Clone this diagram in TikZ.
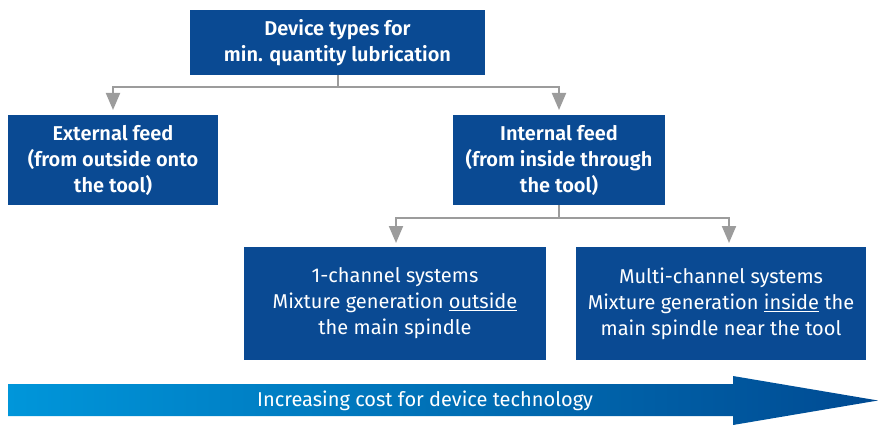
\documentclass[tikz,border=0pt]{standalone}
\usepackage{fontspec}
\setmainfont[BoldFont={Fira Sans SemiBold}]{Fira Sans}
\usetikzlibrary{arrows.meta}
\definecolor{boxblue}{HTML}{0A4A93}
\definecolor{lineg}{HTML}{9C9C9C}
\definecolor{lightb}{HTML}{0096DA}
\definecolor{darkb}{HTML}{004A92}
\tikzset{
  box/.style={fill=boxblue, text=white, align=center, inner sep=0pt, font=\fontsize{20}{26}\selectfont,
    execute at begin node={\rule{0pt}{24pt}}},
  bbox/.style={box, font=\fontsize{20}{26}\selectfont\bfseries},
  conn/.style={draw=lineg, line width=2pt, -{Triangle[width=14pt,length=17pt]}},
  connp/.style={draw=lineg, line width=2pt}
}
\begin{document}
\begin{tikzpicture}[x=1pt,y=-1pt]
\useasboundingbox (0,0) rectangle (878,425);
\node[bbox, minimum width=295pt, minimum height=65pt] (top) at (337.5,42.5) {Device types for\\min. quantity lubrication};
\node[bbox, minimum width=210pt, minimum height=90pt] (ext) at (113,160) {External feed\\(from outside onto\\the tool)};
\node[bbox, minimum width=212pt, minimum height=90pt] (int) at (559,160) {Internal feed\\(from inside through\\the tool)};
\node[box, minimum width=302pt, minimum height=113pt] (one) at (395,303.5) {1-channel systems\\Mixture generation \underline{outside}\\the main spindle};
\node[box, minimum width=290pt, minimum height=113pt] (multi) at (721,303.5) {Multi-channel systems\\Mixture generation \underline{inside} the\\main spindle near the tool};
\coordinate (j1) at (337.5,87);
\coordinate (t1) at (113,110);
\coordinate (t2) at (559,110);
\coordinate (j2) at (559,218);
\coordinate (t3) at (396,243);
\coordinate (t4) at (729,243);
\draw[connp] (top.south) -- (j1);
\draw[conn] (j1) -| (t1);
\draw[conn] (j1) -| (t2);
\draw[connp] (int.south) -- (j2);
\draw[conn] (j2) -| (t3);
\draw[conn] (j2) -| (t4);
\shade[left color=lightb, right color=darkb] (8,384) -- (733,384) -- (733,376) -- (878,400.5) -- (733,425) -- (733,416) -- (8,416) -- cycle;
\node[text=white, font=\fontsize{20}{26}\selectfont, anchor=west, inner sep=0pt] (cost) at (257,401) {Increasing cost for device technology};
\end{tikzpicture}
\end{document}
